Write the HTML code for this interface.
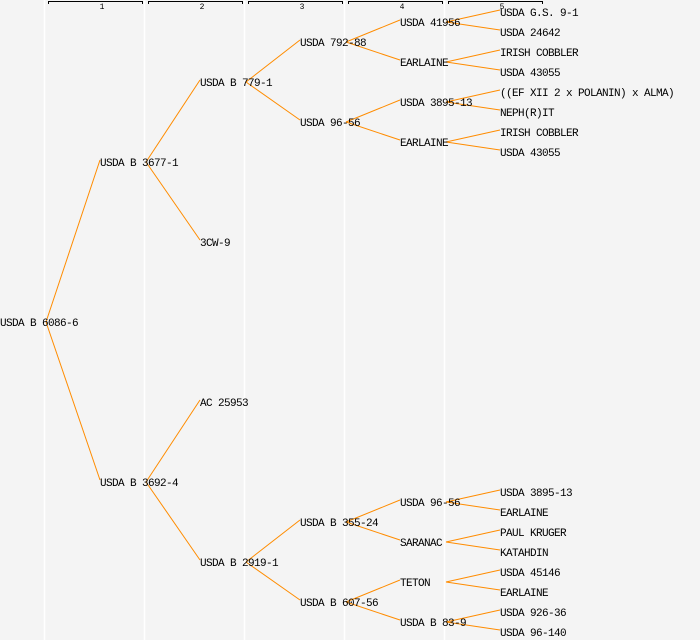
<!DOCTYPE html>
<html><head><meta charset="utf-8"><style>
html,body{margin:0;padding:0;background:#f4f4f4;}
svg{display:block;}
text{font-family:"Liberation Mono","DejaVu Sans Mono",monospace;font-size:11px;letter-spacing:-0.6px;fill:#000;}
.n{font-size:8px;letter-spacing:0;}
</style></head><body>
<svg width="700" height="640" viewBox="0 0 700 640" xmlns="http://www.w3.org/2000/svg">
<rect width="700" height="640" fill="#f4f4f4"/>
<g stroke="#ffffff" stroke-width="1.5">
<line x1="44.5" y1="0" x2="44.5" y2="640"/><line x1="144.5" y1="0" x2="144.5" y2="640"/>
<line x1="244.5" y1="0" x2="244.5" y2="640"/><line x1="344.5" y1="0" x2="344.5" y2="640"/>
<line x1="444.5" y1="0" x2="444.5" y2="640"/>
</g>
<g stroke="#000" stroke-width="1" fill="none">
<path d="M48.5,4V1.5H142.5V4"/><path d="M148.5,4V1.5H242.5V4"/><path d="M248.5,4V1.5H342.5V4"/>
<path d="M348.5,4V1.5H442.5V4"/><path d="M448.5,4V1.5H542.5V4"/>
</g>
<text class="n" x="102" y="9" text-anchor="middle">1</text>
<text class="n" x="202" y="9" text-anchor="middle">2</text>
<text class="n" x="302" y="9" text-anchor="middle">3</text>
<text class="n" x="402" y="9" text-anchor="middle">4</text>
<text class="n" x="502" y="9" text-anchor="middle">5</text>
<g stroke="#ff8c00" stroke-width="1" fill="none">
<path d="M46,322L100,160M46,322L100,480"/>
<path d="M146,162L200,80M146,162L200,240M146,482L200,400M146,482L200,560"/>
<path d="M246,82L300,40M246,82L300,120M246,562L300,520M246,562L300,600"/>
<path d="M346,42L400,20M346,42L400,60M346,122L400,100M346,122L400,140M346,522L400,500M346,522L400,540M346,602L400,580M346,602L400,620"/>
<path d="M446,22L500,10M446,22L500,30M446,62L500,50M446,62L500,70M446,102L500,90M446,102L500,110M446,142L500,130M446,142L500,150"/>
<path d="M446,502L500,490M446,502L500,510M446,542L500,530M446,542L500,550M446,582L500,570M446,582L500,590M446,622L500,610M446,622L500,630"/>
</g>
<text x="0" y="326">USDA B 6086-6</text>
<text x="100" y="166">USDA B 3677-1</text>
<text x="100" y="486">USDA B 3692-4</text>
<text x="200" y="86">USDA B 779-1</text>
<text x="200" y="246">3CW-9</text>
<text x="200" y="406">AC 25953</text>
<text x="200" y="566">USDA B 2919-1</text>
<text x="300" y="46">USDA 792-88</text>
<text x="300" y="126">USDA 96-56</text>
<text x="300" y="526">USDA B 355-24</text>
<text x="300" y="606">USDA B 607-56</text>
<text x="400" y="26">USDA 41956</text>
<text x="400" y="66">EARLAINE</text>
<text x="400" y="106">USDA 3895-13</text>
<text x="400" y="146">EARLAINE</text>
<text x="400" y="506">USDA 96-56</text>
<text x="400" y="546">SARANAC</text>
<text x="400" y="586">TETON</text>
<text x="400" y="626">USDA B 83-9</text>
<text x="500" y="16">USDA G.S. 9-1</text>
<text x="500" y="36">USDA 24642</text>
<text x="500" y="56">IRISH COBBLER</text>
<text x="500" y="76">USDA 43055</text>
<text x="500" y="96">((EF XII 2 x POLANIN) x ALMA)</text>
<text x="500" y="116">NEPH(R)IT</text>
<text x="500" y="136">IRISH COBBLER</text>
<text x="500" y="156">USDA 43055</text>
<text x="500" y="496">USDA 3895-13</text>
<text x="500" y="516">EARLAINE</text>
<text x="500" y="536">PAUL KRUGER</text>
<text x="500" y="556">KATAHDIN</text>
<text x="500" y="576">USDA 45146</text>
<text x="500" y="596">EARLAINE</text>
<text x="500" y="616">USDA 926-36</text>
<text x="500" y="636">USDA 96-140</text>
</svg>
</body></html>
